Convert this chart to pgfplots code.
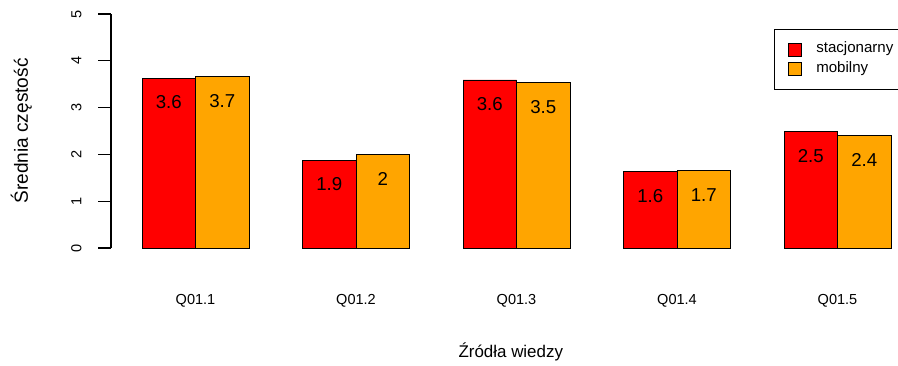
\documentclass[border=0pt]{standalone}
\usepackage{fontspec}
\setmainfont{Liberation Sans}
\usepackage{pgfplots}
\pgfplotsset{compat=1.18}
\definecolor{rorange}{RGB}{255,165,0}
\definecolor{rred}{RGB}{255,0,0}
\begin{document}
\begin{tikzpicture}
\useasboundingbox (0,0) rectangle (673.5pt,273.75pt);
\begin{axis}[
  at={(83.25pt,87.75pt)}, anchor=south west,
  scale only axis, width=590.25pt, height=175.5pt,
  xmin=0.42, xmax=15.131, ymin=0, ymax=5,
  clip=false,
  axis lines*=left,
  x axis line style={draw=none},
  y axis line style={line width=0.8pt},
  xtick={2,5,8,11,14},
  xticklabels={Q01.1,Q01.2,Q01.3,Q01.4,Q01.5},
  ytick={0,1,2,3,4,5},
  tick align=outside,
  major tick length=9.5pt,
  xtick style={draw=none},
  ytick style={line width=0.8pt, black},
  /pgf/number format/assume math mode=true,
  tick label style={font=\fontsize{10.9pt}{13pt}\selectfont, black},
  yticklabel style={rotate=90, anchor=center, yshift=16.5pt},
  xticklabel style={anchor=base, yshift=-32.5pt},
  every axis x label/.style={at={(axis description cs:0.508,-0.4658)}, anchor=base, font=\fontsize{12.7pt}{15pt}\selectfont},
  every axis y label/.style={at={(axis description cs:-0.1055,0.5)}, rotate=90, anchor=base, font=\fontsize{14.3pt}{17pt}\selectfont},
  xlabel={Źródła wiedzy},
  ylabel={Średnia częstość},
  legend style={at={(axis description cs:0.8424,0.937)}, anchor=north west,
    draw=black, line width=0.75pt, font=\fontsize{11.3pt}{13pt}\selectfont,
    inner xsep=10.5pt, inner ysep=10pt, row sep=4.5pt, column sep=10.5pt,
    nodes={inner sep=0pt, text height=7.5pt, text depth=2.25pt}},
  legend cell align=left,
  legend image code/.code={\draw[#1,draw=black,line width=0.6pt] (0pt,-4.875pt) rectangle (9.75pt,4.875pt);},
  nodes near coords={\pgfmathprintnumber[fixed,precision=1]{\pgfplotspointmeta}},
  nodes near coords style={anchor=center, yshift=-18.3pt, font=\fontsize{14pt}{16pt}\selectfont, black},
]
\addplot[ybar, bar width=1, bar shift=0, fill=rred, draw=black, line width=0.6pt]
  coordinates {(1.5,3.63) (4.5,1.88) (7.5,3.59) (10.5,1.63) (13.5,2.49)};
\addplot[ybar, bar width=1, bar shift=0, fill=rorange, draw=black, line width=0.6pt]
  coordinates {(2.5,3.66) (5.5,2.00) (8.5,3.53) (11.5,1.66) (14.5,2.41)};
\legend{stacjonarny, mobilny}
\end{axis}
\end{tikzpicture}
\end{document}
